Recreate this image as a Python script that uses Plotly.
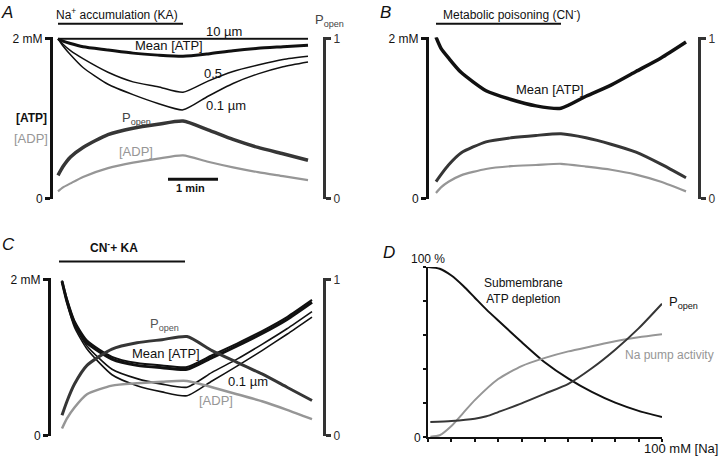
import plotly.graph_objects as go

# time (min) sampled for panels A-C
t = [0, 0.1, 0.25, 0.5, 1, 1.5, 2, 2.5, 3, 3.5, 4, 4.5, 5]
stim = [0, 2.5]
scale_bar = [2.2, 3.2]

# A: Na+ accumulation (KA)
a_10um = [2.0, 2.0, 2.0, 2.0, 2.0, 2.0, 2.0, 2.0, 2.0, 2.0, 2.0, 2.0, 2.0]
a_mean = [2.0, 1.97, 1.94, 1.90, 1.86, 1.82, 1.795, 1.78, 1.81, 1.85, 1.88, 1.90, 1.92]
a_05 = [2.0, 1.93, 1.85, 1.75, 1.58, 1.46, 1.40, 1.33, 1.47, 1.59, 1.67, 1.74, 1.78]
a_01 = [2.0, 1.91, 1.80, 1.64, 1.43, 1.30, 1.19, 1.11, 1.28, 1.44, 1.56, 1.65, 1.71]
a_popen = [0.145, 0.20, 0.26, 0.32, 0.40, 0.44, 0.465, 0.485, 0.43, 0.37, 0.32, 0.28, 0.24]
a_adp = [0.09, 0.14, 0.19, 0.27, 0.38, 0.45, 0.50, 0.54, 0.46, 0.39, 0.33, 0.28, 0.23]

# B: metabolic poisoning (CN-)
b_mean = [2.02, 1.88, 1.76, 1.58, 1.35, 1.24, 1.16, 1.13, 1.28, 1.42, 1.59, 1.76, 1.96]
b_popen = [0.106, 0.15, 0.21, 0.285, 0.355, 0.38, 0.395, 0.405, 0.38, 0.34, 0.29, 0.215, 0.13]
b_adp = [0.07, 0.14, 0.21, 0.29, 0.37, 0.405, 0.42, 0.435, 0.40, 0.36, 0.30, 0.21, 0.09]

# C: CN- + KA
c_10um = [1.99, 1.75, 1.47, 1.22, 1.01, 0.93, 0.90, 0.88, 1.03, 1.18, 1.34, 1.52, 1.74]
c_mean = [1.98, 1.72, 1.44, 1.19, 0.98, 0.90, 0.87, 0.85, 1.00, 1.15, 1.31, 1.49, 1.71]
c_05 = [1.97, 1.72, 1.42, 1.15, 0.85, 0.73, 0.66, 0.62, 0.81, 0.98, 1.17, 1.37, 1.59]
c_01 = [1.96, 1.70, 1.39, 1.11, 0.78, 0.64, 0.56, 0.51, 0.70, 0.89, 1.09, 1.30, 1.52]
c_popen = [0.13, 0.22, 0.33, 0.45, 0.555, 0.595, 0.615, 0.635, 0.545, 0.47, 0.395, 0.31, 0.225]
c_adp = [0.09, 0.22, 0.36, 0.53, 0.64, 0.67, 0.69, 0.70, 0.62, 0.53, 0.44, 0.33, 0.21]

# D: vs [Na] (mM), in %
na = [0, 5, 10, 15, 20, 25, 30, 40, 50, 60, 70, 80, 90, 100]
d_depletion = [100, 99, 95, 89, 82, 75, 68.6, 56, 44, 34.5, 26.7, 20.4, 15.6, 12]
na_p = [1, 10, 20, 25, 30, 40, 50, 60, 70, 80, 90, 100]
d_popen = [9.1, 9.7, 11, 12.4, 14.9, 20, 25.7, 31.5, 40.6, 51.5, 64, 78.5]
na_g = [1, 5, 10, 15, 20, 30, 40, 50, 60, 70, 80, 90, 100]
d_pump = [0.4, 1.3, 6.7, 14.3, 21.9, 34.3, 41.9, 46.7, 50.5, 53.5, 56.5, 58.8, 60.6]

BLACK = "#111111"
DARK = "#363636"
GREY = "#969696"
FONT = "Liberation Sans, Arial, sans-serif"
W, H = 720, 462

fig = go.Figure()

def line(x, y, xa, ya, color, width):
    fig.add_trace(go.Scatter(x=x, y=y, xaxis=xa, yaxis=ya, mode="lines",
                             line=dict(color=color, width=width, shape="spline", smoothing=0.6),
                             showlegend=False, hoverinfo="skip"))

# panel A
line(t, a_10um, "x", "y", BLACK, 2)
line(t, a_mean, "x", "y", BLACK, 3)
line(t, a_05, "x", "y", BLACK, 1.5)
line(t, a_01, "x", "y", BLACK, 1.5)
line(t, a_adp, "x", "y", GREY, 2.2)
line(t, a_popen, "x", "y2", DARK, 3.5)
# panel B
line(t, b_mean, "x2", "y3", BLACK, 3.5)
line(t, b_adp, "x2", "y3", GREY, 2.2)
line(t, b_popen, "x2", "y4", DARK, 3)
# panel C
line(t, c_10um, "x3", "y5", BLACK, 2)
line(t, c_mean, "x3", "y5", BLACK, 3)
line(t, c_05, "x3", "y5", BLACK, 1.6)
line(t, c_01, "x3", "y5", BLACK, 1.6)
line(t, c_adp, "x3", "y5", GREY, 2.5)
line(t, c_popen, "x3", "y6", DARK, 3)
# panel D
line(na, d_depletion, "x4", "y7", BLACK, 2)
line(na_g, d_pump, "x4", "y7", GREY, 2)
line(na_p, d_popen, "x4", "y7", DARK, 2)


def xdom(l, r):
    return [l / W, r / W]


def ydom(b, tp):
    return [1 - b / H, 1 - tp / H]


hidden_x = dict(visible=False, showgrid=False, zeroline=False)
left_y = dict(range=[0, 2.02], tickvals=[0, 2], ticktext=["0", "2 mM"], showline=True,
              linecolor=BLACK, linewidth=3, ticks="outside", ticklen=5, tickwidth=3,
              tickcolor=BLACK, showgrid=False, zeroline=False,
              tickfont=dict(family=FONT, size=12, color=BLACK))
right_y = dict(range=[0, 1.01], tickvals=[0, 1], ticktext=["0", "1"], showline=True,
               linecolor="#333333", linewidth=3, ticks="outside", ticklen=5, tickwidth=3,
               tickcolor="#333333", showgrid=False, zeroline=False, side="right",
               tickfont=dict(family=FONT, size=12, color="#333333"))

fig.update_layout(
    width=W, height=H, margin=dict(l=0, r=0, t=0, b=0),
    paper_bgcolor="white", plot_bgcolor="rgba(0,0,0,0)",
    font=dict(family=FONT, size=12, color=BLACK),
    xaxis=dict(hidden_x, range=[-0.1, 5.3], domain=xdom(53, 323), anchor="y"),
    yaxis=dict(left_y, domain=ydom(198.7, 33.0), anchor="x"),
    yaxis2=dict(right_y, overlaying="y", anchor="x"),
    xaxis2=dict(hidden_x, range=[-0.14, 5.24], domain=xdom(429, 698), anchor="y3"),
    yaxis3=dict(left_y, domain=ydom(198.7, 33.0), anchor="x2"),
    yaxis4=dict(right_y, overlaying="y3", anchor="x2"),
    xaxis3=dict(hidden_x, range=[-0.22, 5.22], domain=xdom(51, 323), anchor="y5"),
    yaxis5=dict(left_y, domain=ydom(442, 280.4), anchor="x3"),
    yaxis6=dict(right_y, overlaying="y5", anchor="x3"),
    xaxis4=dict(range=[0, 100], domain=xdom(428, 662), anchor="y7", showline=True,
                linecolor=BLACK, linewidth=2, ticks="outside", ticklen=3, tickwidth=2,
                tickcolor=BLACK, tickvals=list(range(0, 101, 10)), showticklabels=False,
                showgrid=False, zeroline=False),
    yaxis7=dict(range=[0, 100], domain=ydom(444, 269), anchor="x4", showline=True,
                linecolor=BLACK, linewidth=2, ticks="outside", ticklen=3, tickwidth=2,
                tickcolor=BLACK, tickvals=[0, 20, 40, 60, 80, 100],
                ticktext=["0", "", "", "", "", ""], showgrid=False, zeroline=False,
                tickfont=dict(family=FONT, size=12, color=BLACK)),
)

# stimulus bars and scale bar
fig.add_shape(type="line", xref="x", yref="paper", x0=stim[0], x1=stim[1],
              y0=1 - 19.3 / H, y1=1 - 19.3 / H, line=dict(color=BLACK, width=2))
fig.add_shape(type="line", xref="x2", yref="paper", x0=stim[0], x1=stim[1],
              y0=1 - 19.3 / H, y1=1 - 19.3 / H, line=dict(color=BLACK, width=2))
fig.add_shape(type="line", xref="x3", yref="paper", x0=stim[0] - 0.06, x1=stim[1] - 0.04,
              y0=1 - 263.3 / H, y1=1 - 263.3 / H, line=dict(color=BLACK, width=2))
fig.add_shape(type="line", xref="x", yref="paper", x0=scale_bar[0], x1=scale_bar[1],
              y0=1 - 179 / H, y1=1 - 179 / H, line=dict(color=BLACK, width=3))


def label(txt, x, y, color=BLACK, size=12, bold=False, italic=False, xanchor="center"):
    if bold:
        txt = "<b>" + txt + "</b>"
    if italic:
        txt = "<i>" + txt + "</i>"
    fig.add_annotation(text=txt, x=x / W, y=1 - y / H, xref="paper", yref="paper",
                       xanchor=xanchor, yanchor="middle", showarrow=False,
                       font=dict(family=FONT, size=size, color=color))


# A
label("A", 7, 8, size=17, italic=True)
label("Na<sup>+</sup> accumulation (KA)", 117, 9)
label("10 µm", 224, 27, size=13)
label("Mean [ATP]", 169, 42, size=13)
label("0.5", 213, 70, size=13)
label("0.1 µm", 226, 103, size=13)
label("[ATP]", 31, 116, bold=True)
label("[ADP]", 31, 137, color=GREY, size=13)
label("P<sub>open</sub>", 329, 16, color="#444444", size=13)
label("P<sub>open</sub>", 136, 117, color="#444444", size=13)
label("[ADP]", 136, 150, color=GREY, size=13)
label("1 min", 190, 188, size=11, bold=True)
# B
label("B", 385, 8, size=17, italic=True)
label("Metabolic poisoning (CN<sup>-</sup>)", 512, 9)
label("Mean [ATP]", 550, 87, size=13)
# C
label("C", 8, 246, size=17, italic=True)
label("CN<sup>-</sup>+ KA", 114, 248, bold=True)
label("P<sub>open</sub>", 164, 328, color="#555555", size=13)
label("Mean [ATP]", 166, 358, size=13)
label("0.1 µm", 248, 387, size=13)
label("[ADP]", 216, 406, color=GREY, size=13)
# D
label("D", 389, 254, size=17, italic=True)
label("100 %", 428, 261)
label("Submembrane<br>ATP depletion", 523, 294)
label("P<sub>open</sub>", 683, 305, size=13)
label("Na pump activity", 669, 359, color=GREY)
label("100 mM [Na]", 720, 455, size=13, xanchor="right")

fig.write_html("out.html", config={"displayModeBar": False},
               post_script="document.body.style.margin='0';document.body.style.overflow='hidden';")
